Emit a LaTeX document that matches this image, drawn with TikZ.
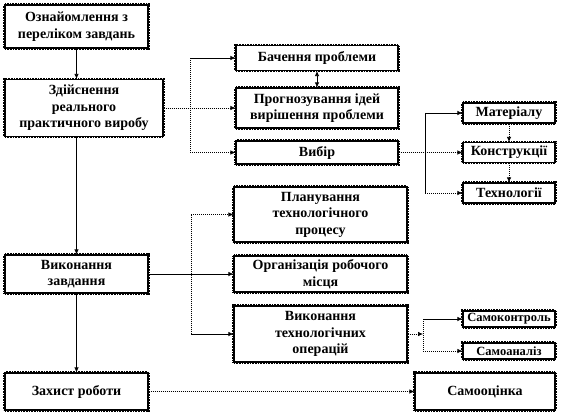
\documentclass[tikz,border=0pt]{standalone}
\usepackage{fontspec}
\setmainfont{Liberation Serif}
\usetikzlibrary{arrows.meta}
\begin{document}
\begin{tikzpicture}[x=1pt,y=-1pt,
  box/.style={draw=black, line width=1.1pt, fill=white, align=center, inner sep=0pt,
    font=\bfseries\fontsize{14}{16.5}\selectfont,
    preaction={draw=black, line width=3.4pt, dash pattern=on 0.8pt off 0.8pt}},
  smallbox/.style={box, font=\bfseries\fontsize{12.5}{14}\selectfont},
  con/.style={line width=0.7pt, -{Latex[length=5pt,width=4.5pt]}},
  dotcon/.style={con, dash pattern=on 1pt off 1pt},
  plain/.style={line width=0.7pt},
  dotplain/.style={line width=0.7pt, dash pattern=on 1pt off 1pt}]
\path[use as bounding box] (0,0) rectangle (561,414);
% left column
\node[box, minimum width=143pt, minimum height=43pt] (A) at (76.5,26.5) {Ознайомлення з\\переліком завдань};
\node[box, minimum width=158pt, minimum height=57pt] (B) at (84,108) {Здійснення\\реального\\практичного виробу};
\node[box, minimum width=143pt, minimum height=38pt] (I) at (76.5,274) {Виконання\\завдання};
\node[box, minimum width=143pt, minimum height=37pt] (O) at (76.5,391.5) {Захист роботи};
% middle column
\node[box, minimum width=162pt, minimum height=25pt] (C) at (317,58) {Бачення проблеми};
\node[box, minimum width=162pt, minimum height=40pt] (D) at (317,108) {Прогнозування ідей\\вирішення проблеми};
\node[box, minimum width=162pt, minimum height=23pt] (E) at (317,152.5) {Вибір};
\node[box, minimum width=173pt, minimum height=55pt] (J) at (320.5,214.5) {Планування\\технологічного\\процесу};
\node[box, minimum width=173pt, minimum height=36pt] (K) at (320.5,274) {Організація робочого\\місця};
\node[box, minimum width=173pt, minimum height=56pt] (L) at (320.5,334) {Виконання\\технологічних\\операцій};
% right column
\node[box, minimum width=92pt, minimum height=20pt] (F) at (509,113) {Матеріалу};
\node[box, minimum width=92pt, minimum height=20pt] (G) at (509,152.5) {Конструкції};
\node[box, minimum width=92pt, minimum height=20pt] (H) at (509,193) {Технології};
\node[smallbox, minimum width=92pt, minimum height=16pt] (M) at (509,319) {Самоконтроль};
\node[smallbox, minimum width=92pt, minimum height=16pt] (N) at (509,351) {Самоаналіз};
\node[box, minimum width=140pt, minimum height=37pt] (P) at (485,391.5) {Самооцінка};
% junction points
\coordinate (q1) at (190,58);
\coordinate (q2) at (190,152.5);
\coordinate (r1) at (425,113);
\coordinate (r2) at (425,193);
\coordinate (s1) at (191,214.5);
\coordinate (s2) at (191,334);
\coordinate (t) at (423,334);
\coordinate (t1) at (423,319);
\coordinate (t2) at (423,351);
% vertical main line
\draw[con] (A.south) -- (A.south |- B.north);
\draw[con] (A.south |- B.south) -- (I.north);
\draw[con] (I.south) -- (O.north);
% Здійснення branch
\draw[dotplain] (q1) -- (q2);
\draw[dotcon] (B.east) -- (D.west);
\draw[con] (q1) -- (C.west);
\draw[dotcon] (q2) -- (E.west);
\draw[line width=0.7pt, {Latex[length=5pt,width=4.5pt]}-{Latex[length=5pt,width=4.5pt]}] (C.south) -- (D.north);
% Вибір branch
\draw[plain] (r1) -- (r2);
\draw[dotcon] (E.east) -- (G.west);
\draw[con] (r1) -- (F.west);
\draw[dotcon] (r2) -- (H.west);
\draw[dotcon] (F.south) -- (G.north);
\draw[dotcon] (G.south) -- (H.north);
% Виконання branch
\draw[dotplain] (s1) -- (s2);
\draw[con] (I.east) -- (K.west);
\draw[dotcon] (s1) -- (J.west);
\draw[con] (s2) -- (L.west);
% операцій branch
\draw[dotcon] (L.east) -- (t);
\draw[dotplain] (t1) -- (t2);
\draw[con] (t1) -- (M.west);
\draw[dotcon] (t2) -- (N.west);
% Захист
\draw[dotcon] (O.east) -- (P.west);
\end{tikzpicture}
\end{document}
